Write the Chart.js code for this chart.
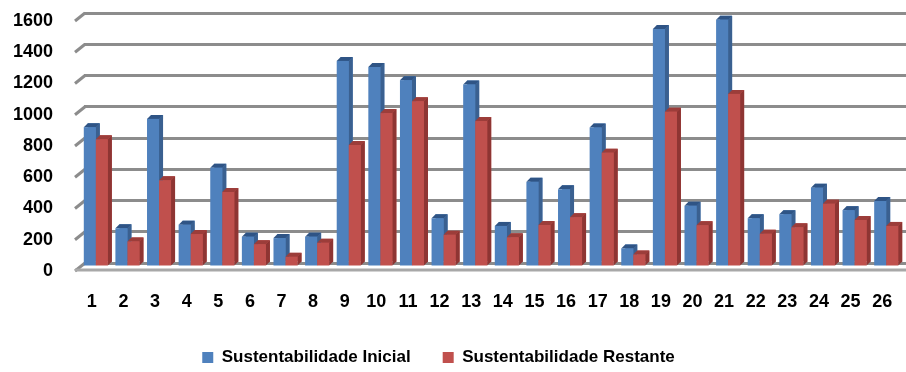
<!DOCTYPE html>
<html>
<head>
<meta charset="utf-8">
<script src="https://cdn.jsdelivr.net/npm/chart.js@4/dist/chart.umd.min.js"></script>
<style>
html,body{margin:0;padding:0;background:#fff;}
#wrap{width:906px;height:372px;position:relative;}
</style>
</head>
<body>
<div id="wrap"><canvas id="c"></canvas></div>
<script>
const categories = ['1','2','3','4','5','6','7','8','9','10','11','12','13','14','15','16','17','18','19','20','21','22','23','24','25','26'];
const seriesNames = ['Sustentabilidade Inicial','Sustentabilidade Restante'];
const inicial = [895, 248, 948, 271, 635, 194, 185, 194, 1319, 1280, 1196, 312, 1168, 263, 545, 497, 893, 119, 1523, 392, 1583, 312, 338, 508, 364, 422];
const restante = [817, 164, 555, 211, 480, 146, 65, 155, 781, 985, 1061, 206, 934, 190, 269, 319, 732, 80, 994, 268, 1108, 213, 254, 405, 301, 263];
const yTicks = [0, 200, 400, 600, 800, 1000, 1200, 1400, 1600];

const FONT = "'Liberation Sans', Arial, sans-serif";
const faces = [
  {front:'#4F81BD', side:'#3A6090', top:'#2F5485'},
  {front:'#C0504D', side:'#8E3533', top:'#9C3D3A'}
];
const DX = 4, DY = 4;

const bar3d = {
  id: 'bar3d',
  beforeDatasetsDraw(chart) {
    const {ctx, chartArea: a, scales: {y}} = chart;
    ctx.save();
    ctx.strokeStyle = '#8c8c8c';
    ctx.lineWidth = 3;
    yTicks.forEach(v => {
      const py = y.getPixelForValue(v);
      ctx.beginPath();
      ctx.moveTo(a.left + 1, py);
      ctx.lineTo(a.left - 9, py + 8);
      ctx.stroke();
    });
    const p0 = y.getPixelForValue(0);
    ctx.strokeStyle = '#a8a8a8';
    ctx.beginPath();
    ctx.moveTo(a.left - 9, p0 + 7);
    ctx.lineTo(a.right, p0 + 7);
    ctx.stroke();
    ctx.restore();
  },
  afterDatasetsDraw(chart) {
    const ctx = chart.ctx;
    const metas = [chart.getDatasetMeta(0), chart.getDatasetMeta(1)];
    const n = metas[0].data.length;
    ctx.save();
    for (let i = 0; i < n; i++) {
      for (let d = 0; d < 2; d++) {
        const el = metas[d].data[i];
        const {x, y, base, width} = el.getProps(['x','y','base','width'], true);
        const L = x - width/2, R = x + width/2;
        const f = faces[d];
        ctx.fillStyle = f.side;
        ctx.beginPath();
        ctx.moveTo(R - DX, y + DY); ctx.lineTo(R, y); ctx.lineTo(R, base); ctx.lineTo(R - DX, base + DY);
        ctx.closePath(); ctx.fill();
        ctx.fillStyle = f.top;
        ctx.beginPath();
        ctx.moveTo(L - DX, y + DY); ctx.lineTo(L, y); ctx.lineTo(R, y); ctx.lineTo(R - DX, y + DY);
        ctx.closePath(); ctx.fill();
        ctx.fillStyle = f.front;
        ctx.fillRect(L - DX, y + DY, width, base - y);
      }
    }
    ctx.restore();
  }
};

new Chart(document.getElementById('c'), {
  type: 'bar',
  data: {
    labels: categories,
    datasets: [
      {label: seriesNames[0], data: inicial, backgroundColor: faces[0].front, borderWidth: 0},
      {label: seriesNames[1], data: restante, backgroundColor: faces[1].front, borderWidth: 0}
    ]
  },
  options: {
    responsive: true,
    maintainAspectRatio: false,
    animation: false,
    devicePixelRatio: 1,
    layout: {padding: {left: -34, right: -5, top: 13, bottom: -4}},
    datasets: {bar: {categoryPercentage: 0.76, barPercentage: 1.0}},
    scales: {
      x: {
        grid: {display: true, drawOnChartArea: false, drawTicks: true, tickLength: 28, tickColor: 'rgba(0,0,0,0)'},
        border: {display: false},
        ticks: {padding: 0, labelOffset: -8, color: '#000', font: {family: FONT, size: 18, weight: 'bold'}},
        afterFit(s) { s.height = 54; }
      },
      y: {
        min: 0, max: 1600,
        afterBuildTicks(s) { s.ticks = yTicks.map(v => ({value: v})); },
        grid: {color: '#8c8c8c', lineWidth: 3, drawTicks: true, tickLength: 31, tickColor: 'rgba(0,0,0,0)'},
        border: {display: false},
        ticks: {padding: 0, labelOffset: 8, color: '#000', font: {family: FONT, size: 18, weight: 'bold'}, callback: v => String(v)},
        afterFit(s) { s.width = 118; }
      }
    },
    plugins: {
      legend: {
        position: 'bottom',
        labels: {boxWidth: 11, boxHeight: 11, padding: 32, color: '#000', font: {family: FONT, size: 17, weight: 'bold'}}
      },
      tooltip: {enabled: false}
    }
  },
  plugins: [bar3d]
});
</script>
</body>
</html>
